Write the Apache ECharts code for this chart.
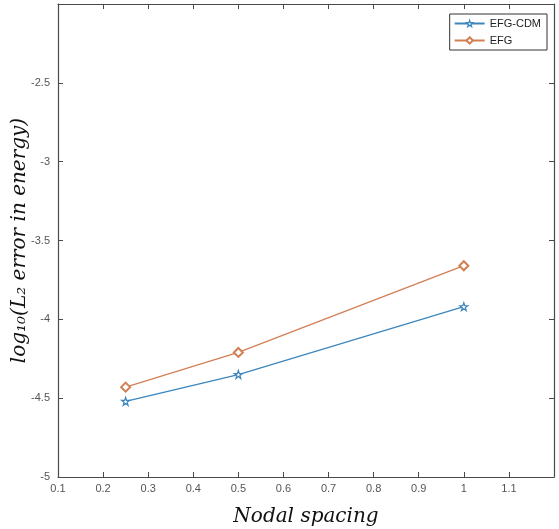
<!DOCTYPE html>
<html><head><meta charset="utf-8">
<script src="https://cdn.jsdelivr.net/npm/echarts@6/dist/echarts.min.js"></script>
<style>html,body{margin:0;padding:0;background:#fff}#c{width:559px;height:529px}</style>
</head><body><div id="c"></div>
<script>
const nodalSpacing = [0.25, 0.5, 1];
const efgCdm = [-4.52, -4.35, -3.92];
const efg = [-4.43, -4.21, -3.66];
const xTicks = [0.1,0.2,0.3,0.4,0.5,0.6,0.7,0.8,0.9,1,1.1];
const seriesNames = ['EFG-CDM', 'EFG'];

const chart = echarts.init(document.getElementById('c'));
const axisCol = '#4a4a4a';
const labCol = '#555';
const star = 'path://M50,2 L61,37 L98,37 L68,59 L79,95 L50,73 L21,95 L32,59 L2,37 L39,37 Z';
function pairs(xs, ys){ return xs.map((x,i)=>[x, ys[i]]); }
const common = {
  axisLine:{show:true,lineStyle:{color:axisCol,width:1.2}},
  splitLine:{show:false}
};
chart.setOption({
  animation:false,
  backgroundColor:'#fff',
  grid:{left:58,right:5,top:4,bottom:52,containLabel:false,outerBoundsMode:'none'},
  legend:{
    right:12, top:14, orient:'vertical',
    itemWidth:30, itemHeight:8, itemGap:6,
    padding:[4,6,4,4],
    borderColor:'#333', borderWidth:1, backgroundColor:'#fff',
    textStyle:{fontFamily:'Liberation Sans, Arial', fontSize:11, color:'#222'},
    data: [{name:seriesNames[0], itemStyle:{color:'#fff',borderColor:'#3c86bd',borderWidth:1.2}},
           {name:seriesNames[1]}]
  },
  xAxis:[{
    type:'value', min:0.1, max:1.2, interval:0.1, position:'bottom',
    ...common,
    axisTick:{show:true,inside:true,length:5,lineStyle:{color:axisCol}},
    axisLabel:{color:labCol,fontFamily:'Liberation Sans, Arial',fontSize:11,margin:6,
      formatter:v=>{ const r=Math.round(v*10)/10; return xTicks.includes(r)? String(r):''; }},
    name:'Nodal spacing', nameLocation:'middle', nameGap:30,
    nameTextStyle:{fontFamily:'DejaVu Serif, Liberation Serif, serif',fontStyle:'italic',fontSize:20,color:'#111'}
  },{
    type:'value', min:0.1, max:1.2, interval:0.1, position:'top',
    ...common,
    axisTick:{show:true,inside:true,length:5,lineStyle:{color:axisCol}},
    axisLabel:{show:false}
  }],
  yAxis:[{
    type:'value', min:-5, max:-2, interval:0.5, position:'left',
    ...common,
    axisTick:{show:true,inside:true,length:5,lineStyle:{color:axisCol}},
    axisLabel:{color:labCol,fontFamily:'Liberation Sans, Arial',fontSize:11,margin:8,
      formatter:v=> v===-2 ? '' : String(v)},
    name:'log\u2081\u2080(L\u2082 error in energy)', nameLocation:'middle', nameGap:28,
    nameMoveOverlap:false,
    nameTextStyle:{fontFamily:'DejaVu Serif, Liberation Serif, serif',fontStyle:'italic',fontSize:20,color:'#111'}
  },{
    type:'value', min:-5, max:-2, interval:0.5, position:'right',
    ...common,
    axisTick:{show:true,inside:true,length:5,lineStyle:{color:axisCol}},
    axisLabel:{show:false}
  }],
  series:[{
    name:seriesNames[0], type:'line', data:pairs(nodalSpacing, efgCdm),
    symbol:star, symbolSize:8,
    lineStyle:{color:'#3c86bd',width:1.3},
    itemStyle:{color:'#fff',borderColor:'#3c86bd',borderWidth:1.2}
  },{
    name:seriesNames[1], type:'line', data:pairs(nodalSpacing, efg),
    symbol:'emptyDiamond', symbolSize:9,
    lineStyle:{color:'#d27f54',width:1.3},
    itemStyle:{color:'#d27f54',borderColor:'#d27f54',borderWidth:1.2}
  }]
});
</script></body></html>
